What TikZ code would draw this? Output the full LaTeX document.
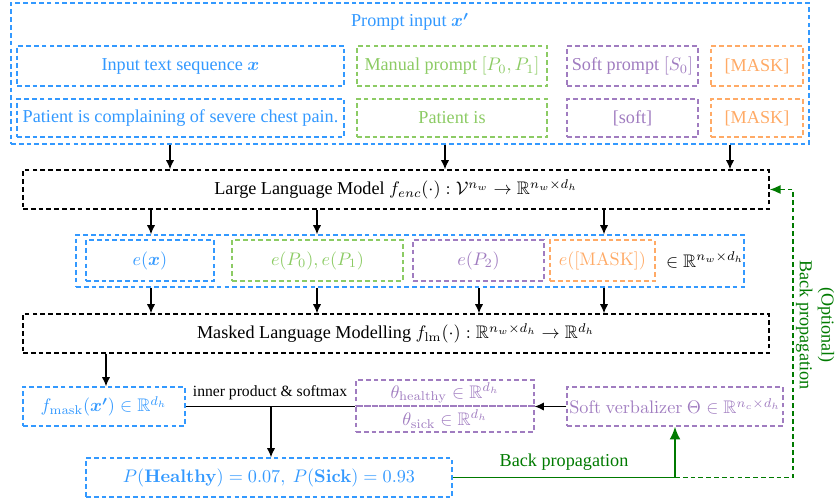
\documentclass[tikz,border=0pt]{standalone}
\usepackage{amsmath,amssymb,bm}
\usepackage[no-math]{fontspec}
\setmainfont{Liberation Serif}
\usetikzlibrary{arrows.meta,fit,calc}

\definecolor{cblue}{HTML}{3399FF}
\definecolor{cgreen}{HTML}{8CCB64}
\definecolor{cpurple}{HTML}{A07CC0}
\definecolor{corange}{HTML}{FFAA66}
\definecolor{cdgreen}{HTML}{007A00}

\tikzset{
  dsh/.style={dash pattern=on 2.6pt off 1.7pt, line width=0.75pt},
  box/.style={dsh, draw, inner sep=0pt, rectangle},
  bluebox/.style={box, draw=cblue, label={[text=cblue]center:#1}},
  greenbox/.style={box, draw=cgreen, label={[text=cgreen]center:#1}},
  purplebox/.style={box, draw=cpurple, label={[text=cpurple]center:#1}},
  orangebox/.style={box, draw=corange, label={[text=corange]center:#1}},
  blackbox/.style={box, draw=black, label={[text=black]center:#1}},
  bluebox/.default={},
  arr/.style={-{Latex[length=5pt,width=4.5pt]}, line width=0.7pt},
  bpsolid/.style={-{Latex[length=7pt,width=6pt]}, line width=1pt, draw=cdgreen},
  bpdash/.style={-{Latex[length=6pt,width=5pt]}, dsh, draw=cdgreen},
}

\begin{document}
\begin{tikzpicture}[x=0.55pt,y=-0.55pt]
\useasboundingbox (0,0) rectangle (836,503);

% prompt input
\node[bluebox, fit={(11,3)(809,144)}] (prompt) {};
\node[text=cblue] (ptitle) at (410,22) {Prompt input $\bm{x'}$};

\node[bluebox={Input text sequence $\bm{x}$}, fit={(17,46)(344,86)}] (inp1) {};
\node[greenbox={Manual prompt $[P_0,P_1]$}, fit={(357,46)(547,86)}] (man1) {};
\node[purplebox={Soft prompt $[S_0]$}, fit={(567,46)(698,86)}] (soft1) {};
\node[orangebox={[MASK]}, fit={(711,46)(803,86)}] (mask1) {};

\node[bluebox={Patient is complaining of severe chest pain.}, fit={(17,99)(344,137)}] (inp2) {};
\node[greenbox={Patient is}, fit={(357,99)(547,137)}] (man2) {};
\node[purplebox={[soft]}, fit={(567,99)(698,137)}] (soft2) {};
\node[orangebox={[MASK]}, fit={(711,99)(803,137)}] (mask2) {};

% large language model
\node[blackbox={Large Language Model $f_{enc}(\cdot):\mathcal{V}^{n_w}\rightarrow\mathbb{R}^{n_w\times d_h}$},
      fit={(23,170)(769,209)}] (llm) {};

% embeddings
\node[bluebox, fit={(76,235)(744,287)}] (emb) {};
\node[bluebox={$e(\bm{x})$}, fit={(86,240)(214,281)}] (ex) {};
\node[greenbox={$e(P_0),e(P_1)$}, fit={(232,240)(403,281)}] (ep) {};
\node[purplebox={$e(P_2)$}, fit={(413,240)(544,281)}] (es) {};
\node[orangebox={$e([\mathrm{MASK}])$}, fit={(550,240)(655,281)}] (em) {};
\node (edim) at (705,260) {$\in\mathbb{R}^{n_w\times d_h}$};

% masked language modelling
\node[blackbox={Masked Language Modelling $f_{\mathrm{lm}}(\cdot):\mathbb{R}^{n_w\times d_h}\rightarrow\mathbb{R}^{d_h}$},
      fit={(23,314)(769,353)}] (mlm) {};

% lower row
\node[bluebox={$f_{\mathrm{mask}}(\bm{x'})\in\mathbb{R}^{d_h}$}, fit={(23,387)(185,426)}] (fmask) {};
\node[purplebox={$\theta_{\mathrm{healthy}}\in\mathbb{R}^{d_h}$}, fit={(356,380)(534,406)}] (th) {};
\node[purplebox={$\theta_{\mathrm{sick}}\in\mathbb{R}^{d_h}$}, fit={(356,406)(534,432)}] (ts) {};
\node[purplebox={$\mathrm{Soft\ verbalizer}\ \Theta\in\mathbb{R}^{n_c\times d_h}$}, fit={(567,387)(783,426)}] (sv) {};
\node[bluebox={$P(\mathbf{Healthy})=0.07,\ P(\mathbf{Sick})=0.93$}, fit={(86,458)(452,497)}] (pres) {};

% arrow columns
\coordinate (c1) at (170,0);
\coordinate (c2) at (445,0);
\coordinate (c3) at (730,0);
\coordinate (d1) at (151,0);
\coordinate (d2) at (317,0);
\coordinate (d3) at (604,0);
\coordinate (d4) at (479,0);
\coordinate (f1) at (106,0);
\coordinate (g1) at (271,0);
\coordinate (bpr) at (793,0);

\draw[arr] (prompt.south -| c1) -- (llm.north -| c1);
\draw[arr] (prompt.south -| c2) -- (llm.north -| c2);
\draw[arr] (prompt.south -| c3) -- (llm.north -| c3);

\draw[arr] (llm.south -| d1) -- (emb.north -| d1);
\draw[arr] (llm.south -| d2) -- (emb.north -| d2);
\draw[arr] (llm.south -| d3) -- (emb.north -| d3);

\draw[arr] (emb.south -| d1) -- (mlm.north -| d1);
\draw[arr] (emb.south -| d2) -- (mlm.north -| d2);
\draw[arr] (emb.south -| d4) -- (mlm.north -| d4);
\draw[arr] (emb.south -| d3) -- (mlm.north -| d3);

\draw[arr] (mlm.south -| f1) -- (fmask.north -| f1);

% inner product and softmax
\draw[line width=0.7pt] (fmask.east) -- (fmask.east -| th.west);
\node[font=\fontsize{8.6}{10}\selectfont] (ipl) at (270,393) {inner product \& softmax};
\draw[arr] (fmask.east -| g1) -- (pres.north -| g1);
\draw[arr] (sv.west) -- (sv.west -| th.east);

% back propagation
\draw[bpsolid] (pres.east) -| (sv.south);
\node[text=cdgreen] (bpl) at (564,462) {Back propagation};
\draw[bpdash] (sv.south |- pres.east) -- (bpr |- pres.east) -- (bpr |- llm.east) -- (llm.east);
\node[text=cdgreen, rotate=-90, align=center, inner sep=0pt] (obpl) at (815,325)
  {(Optional)\\Back propagation};
\end{tikzpicture}
\end{document}
